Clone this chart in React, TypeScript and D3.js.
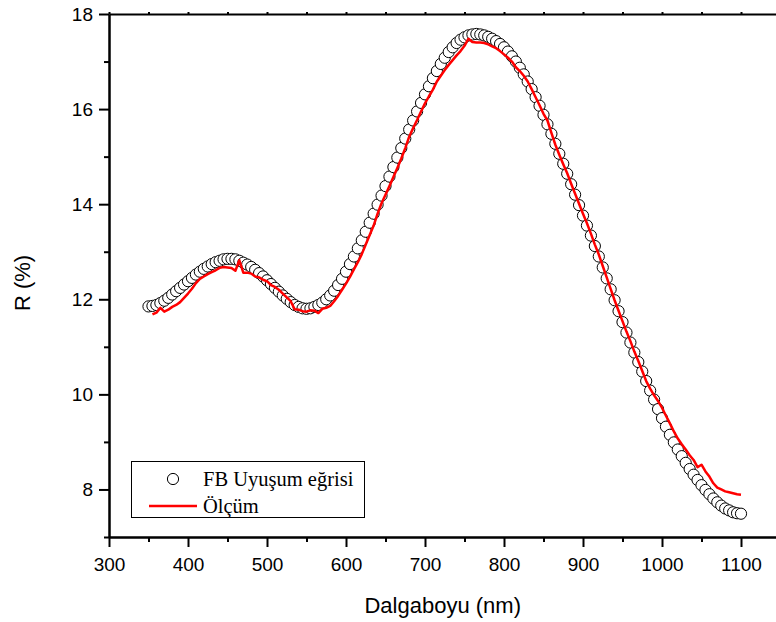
import React, { useRef, useEffect } from "react";
import * as d3 from "d3";

// wavelength grid of the fit (nm)
const fitLambda = [
  350, 355, 360, 365, 370, 375, 380, 385, 390, 395, 400, 405, 410, 415, 420, 425, 430, 435, 440, 445,
  450, 455, 460, 465, 470, 475, 480, 485, 490, 495, 500, 505, 510, 515, 520, 525, 530, 535, 540, 545,
  550, 555, 560, 565, 570, 575, 580, 585, 590, 595, 600, 605, 610, 615, 620, 625, 630, 635, 640, 645,
  650, 655, 660, 665, 670, 675, 680, 685, 690, 695, 700, 705, 710, 715, 720, 725, 730, 735, 740, 745,
  750, 755, 760, 765, 770, 775, 780, 785, 790, 795, 800, 805, 810, 815, 820, 825, 830, 835, 840, 845,
  850, 855, 860, 865, 870, 875, 880, 885, 890, 895, 900, 905, 910, 915, 920, 925, 930, 935, 940, 945,
  950, 955, 960, 965, 970, 975, 980, 985, 990, 995, 1000, 1005, 1010, 1015, 1020, 1025, 1030, 1035, 1040, 1045,
  1050, 1055, 1060, 1065, 1070, 1075, 1080, 1085, 1090, 1095, 1100,
];

// FB Uyuşum eğrisi (%)
const fitR = [
  11.85, 11.86, 11.88, 11.92, 11.97, 12.03, 12.10, 12.17, 12.24, 12.31, 12.38, 12.45, 12.52, 12.58, 12.64, 12.69, 12.74, 12.78, 12.81, 12.84,
  12.85, 12.85, 12.84, 12.81, 12.77, 12.73, 12.68, 12.62, 12.55, 12.48, 12.40, 12.32, 12.24, 12.16, 12.08, 12.01, 11.94, 11.88, 11.84, 11.81,
  11.80, 11.81, 11.84, 11.88, 11.93, 12.00, 12.08, 12.18, 12.30, 12.43, 12.58, 12.74, 12.90, 13.07, 13.24, 13.42, 13.61, 13.80, 13.99, 14.18,
  14.38, 14.58, 14.78, 14.98, 15.18, 15.38, 15.57, 15.76, 15.95, 16.13, 16.31, 16.48, 16.65, 16.80, 16.95, 17.08, 17.20, 17.30, 17.39, 17.46,
  17.51, 17.55, 17.57, 17.58, 17.57, 17.55, 17.52, 17.48, 17.43, 17.37, 17.30, 17.21, 17.11, 17.00, 16.87, 16.73, 16.58, 16.42, 16.25, 16.07,
  15.88, 15.68, 15.48, 15.27, 15.06, 14.85, 14.64, 14.42, 14.20, 13.98, 13.76, 13.55, 13.34, 13.12, 12.90, 12.67, 12.44, 12.21, 11.98, 11.75,
  11.52, 11.30, 11.09, 10.88, 10.68, 10.48, 10.28, 10.08, 9.89, 9.69, 9.50, 9.32, 9.15, 8.99, 8.84, 8.70, 8.56, 8.43, 8.31, 8.20,
  8.09, 7.99, 7.90, 7.81, 7.73, 7.66, 7.60, 7.56, 7.52, 7.50, 7.49,
];

// wavelength grid of the measurement (nm)
const measLambda = [
  355, 360, 365, 370, 375, 380, 385, 390, 395, 400, 405, 410, 415, 420, 425, 430, 435, 440, 445,
  450, 455, 460, 465, 470, 475, 480, 485, 490, 495, 500, 505, 510, 515, 520, 525, 530, 535, 540, 545,
  550, 555, 560, 565, 570, 575, 580, 585, 590, 595, 600, 605, 610, 615, 620, 625, 630, 635, 640, 645,
  650, 655, 660, 665, 670, 675, 680, 685, 690, 695, 700, 705, 710, 715, 720, 725, 730, 735, 740, 745,
  750, 755, 760, 765, 770, 775, 780, 785, 790, 795, 800, 805, 810, 815, 820, 825, 830, 835, 840, 845,
  850, 855, 860, 865, 870, 875, 880, 885, 890, 895, 900, 905, 910, 915, 920, 925, 930, 935, 940, 945,
  950, 955, 960, 965, 970, 975, 980, 985, 990, 995, 1000, 1005, 1010, 1015, 1020, 1025, 1030, 1035, 1040, 1045,
  1050, 1055, 1060, 1065, 1070, 1075, 1080, 1085, 1090, 1095, 1100,
];

// Ölçüm (%)
const measR = [
  11.68, 11.72, 11.82, 11.74, 11.78, 11.84, 11.88, 11.94, 12.03, 12.12, 12.22, 12.34, 12.43, 12.48, 12.53, 12.57, 12.61, 12.66, 12.68,
  12.67, 12.66, 12.60, 12.82, 12.56, 12.56, 12.54, 12.48, 12.46, 12.41, 12.38, 12.30, 12.26, 12.20, 12.12, 12.04, 11.96, 11.79, 11.78, 11.75,
  11.74, 11.77, 11.76, 11.71, 11.80, 11.82, 11.86, 11.96, 12.07, 12.20, 12.33, 12.47, 12.63, 12.78, 12.95, 13.15, 13.35, 13.55, 13.80, 14.02,
  14.20, 14.38, 14.57, 14.76, 14.96, 15.18, 15.42, 15.60, 15.77, 15.95, 16.12, 16.27, 16.41, 16.58, 16.70, 16.82, 16.93, 17.03, 17.13, 17.22,
  17.33, 17.48, 17.41, 17.40, 17.40, 17.39, 17.36, 17.32, 17.28, 17.22, 17.15, 17.08, 17.00, 16.88, 16.80, 16.70, 16.58, 16.42, 16.25, 16.08,
  15.90, 15.76, 15.50, 15.25, 15.04, 14.84, 14.65, 14.43, 14.22, 14.01, 13.80, 13.60, 13.38, 13.15, 12.94, 12.70, 12.46, 12.22, 11.98, 11.76,
  11.54, 11.32, 11.12, 10.90, 10.70, 10.49, 10.28, 10.12, 9.98, 9.86, 9.72, 9.55, 9.39, 9.22, 9.07, 8.95, 8.84, 8.72, 8.62, 8.47,
  8.52, 8.38, 8.27, 8.13, 8.04, 8.00, 7.96, 7.94, 7.92, 7.90, 7.89,
];

const xMajor = [300, 400, 500, 600, 700, 800, 900, 1000, 1100];
const xMinor = [350, 450, 550, 650, 750, 850, 950, 1050, 1150];
const yMajor = [8, 10, 12, 14, 16, 18];
const yMinor = [7, 9, 11, 13, 15, 17];

const legendLabels = ["FB Uyuşum eğrisi", "Ölçüm"];

const W = 776;
const H = 622;
const sans = "'Liberation Sans', Arial, sans-serif";
const serif = "'Liberation Serif', 'Times New Roman', serif";

export default function App() {
  const ref = useRef(null);

  useEffect(() => {
    if (!ref.current) return;
    const svg = d3.select(ref.current);
    svg.selectAll("*").remove();

    const left = 109, right = 780.5, top = 14, bottom = 537;
    const x = d3.scaleLinear().domain([300, 1150]).range([left, right]);
    const y = d3.scaleLinear().domain([7, 18]).range([bottom, top]);
    const fmt = d3.format("d");

    // fit circles
    const fit = fitLambda.map((l, i) => ({ l, r: fitR[i] }));
    svg.append("g").selectAll("circle").data(fit).enter().append("circle")
      .attr("cx", (d) => x(d.l)).attr("cy", (d) => y(d.r)).attr("r", 5.6)
      .attr("fill", "#fff").attr("stroke", "#000").attr("stroke-width", 1);

    // measurement line
    const meas = measLambda.map((l, i) => ({ l, r: measR[i] }));
    const line = d3.line().x((d) => x(d.l)).y((d) => y(d.r));
    svg.append("path").datum(meas).attr("d", line)
      .attr("fill", "none").attr("stroke", "#ff0000").attr("stroke-width", 2.5).attr("stroke-linejoin", "round");

    const styleAxis = (g) => {
      g.select(".domain").attr("stroke", "#000").attr("stroke-width", 2);
      g.selectAll(".tick line").attr("stroke", "#000").attr("stroke-width", 2);
      g.selectAll("text").attr("font-family", sans).attr("font-size", 19).attr("fill", "#000");
    };

    // bottom axis
    svg.append("g").attr("transform", `translate(0,${bottom})`)
      .call(d3.axisBottom(x).tickValues(xMinor).tickSize(5).tickSizeOuter(0).tickFormat(() => ""))
      .call(styleAxis);
    svg.append("g").attr("transform", `translate(0,${bottom})`)
      .call(d3.axisBottom(x).tickValues(xMajor).tickSize(10).tickSizeOuter(0).tickPadding(11).tickFormat(fmt))
      .call(styleAxis);

    // top axis (no labels)
    svg.append("g").attr("transform", `translate(0,${top})`)
      .call(d3.axisTop(x).tickValues([...xMajor, ...xMinor]).tickSize(2).tickSizeOuter(0).tickFormat(() => ""))
      .call(styleAxis);

    // left axis
    svg.append("g").attr("transform", `translate(${left},0)`)
      .call(d3.axisLeft(y).tickValues(yMinor).tickSize(5).tickSizeOuter(0).tickFormat(() => ""))
      .call(styleAxis);
    svg.append("g").attr("transform", `translate(${left},0)`)
      .call(d3.axisLeft(y).tickValues(yMajor).tickSize(10).tickSizeOuter(0).tickPadding(6).tickFormat(fmt))
      .call(styleAxis);

    // axis titles
    svg.append("text").attr("x", (left + right) / 2 - 2).attr("y", 613)
      .attr("text-anchor", "middle").attr("font-family", sans).attr("font-size", 22)
      .text("Dalgaboyu (nm)");
    svg.append("text").attr("transform", `translate(30,283) rotate(-90)`)
      .attr("text-anchor", "middle").attr("font-family", sans).attr("font-size", 22)
      .text("R (%)");

    // legend
    const lg = svg.append("g");
    lg.append("rect").attr("x", 131.5).attr("y", 461.5).attr("width", 233).attr("height", 56)
      .attr("fill", "#fff").attr("stroke", "#000").attr("stroke-width", 1);
    lg.append("circle").attr("cx", 173).attr("cy", 479).attr("r", 5.6)
      .attr("fill", "#fff").attr("stroke", "#000").attr("stroke-width", 1);
    lg.append("line").attr("x1", 149).attr("x2", 197).attr("y1", 506).attr("y2", 506)
      .attr("stroke", "#ff0000").attr("stroke-width", 2.5);
    lg.selectAll("text.lbl").data(legendLabels).enter().append("text").attr("class", "lbl")
      .attr("x", 203).attr("y", (d, i) => 486 + i * 27)
      .attr("font-family", serif).attr("font-size", 20.5).attr("fill", "#000")
      .text((d) => d);
  }, []);

  return (
    <svg ref={ref} width={W} height={H}
      style={{ position: "absolute", left: 0, top: 0, background: "#fff", display: "block" }} />
  );
}
